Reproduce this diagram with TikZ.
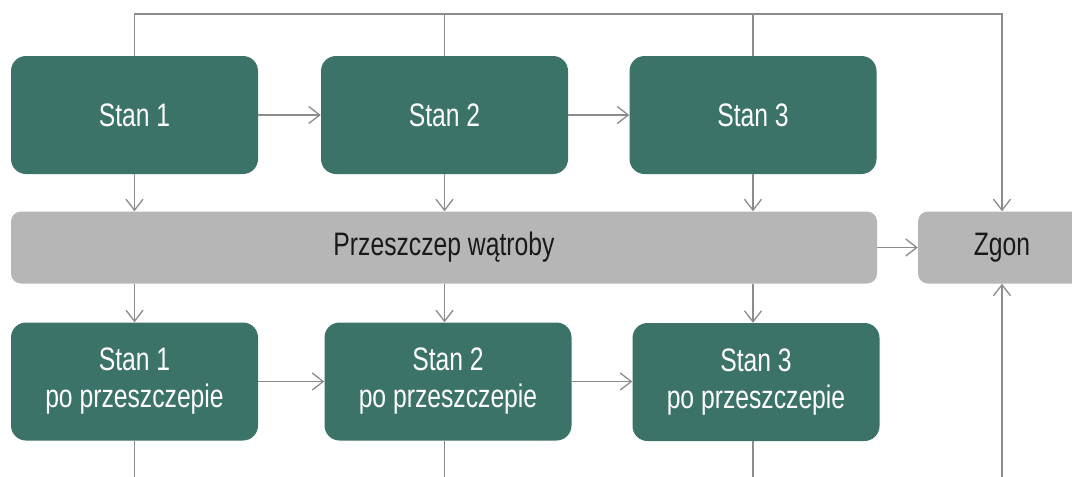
\documentclass[tikz,border=0pt]{standalone}
\usepackage{fontspec}
\setmainfont{Liberation Sans}[FakeStretch=0.76]
\usetikzlibrary{arrows.meta}
\definecolor{stategreen}{RGB}{59,115,104}
\definecolor{bargray}{RGB}{182,182,182}
\definecolor{linegray}{RGB}{140,140,140}
\definecolor{darktext}{RGB}{25,25,25}
\tikzset{
  greenbox/.style={rectangle, rounded corners=15pt, fill=stategreen, text=white,
    minimum width=247pt, minimum height=118pt, inner sep=0pt, align=center,
    font=\fontsize{32.5}{37}\selectfont},
  graybox/.style={rectangle, rounded corners=10pt, fill=bargray, text=darktext,
    minimum height=72pt, inner sep=0pt, align=center,
    font=\fontsize{32.5}{37}\selectfont},
  conn/.style={draw=linegray, line width=1.3pt},
  arr/.style={conn, -{Straight Barb[length=11pt,width=17pt,line width=1.3pt]}},
}
\begin{document}
\begin{tikzpicture}[x=1pt,y=-1pt]
\useasboundingbox (0,0) rectangle (1072,477);
\clip (0,0) rectangle (1072,477);
\fill[white] (0,0) rectangle (1072,477);

\node[greenbox] (s1) at (134.5,115) {Stan 1};
\node[greenbox] (s2) at (444.5,115) {Stan 2};
\node[greenbox] (s3) at (753,115) {Stan 3};
\node[graybox, minimum width=866pt] (bar) at (444,247.5) {Przeszczep wątroby};
\node[graybox, minimum width=168pt] (zgon) at (1002,247.5) {Zgon};
\node[greenbox] (p1) at (134.5,381.5) {Stan 1\\po przeszczepie};
\node[greenbox] (p2) at (448,381.5) {Stan 2\\po przeszczepie};
\node[greenbox] (p3) at (756,382) {Stan 3\\po przeszczepie};

\coordinate (topline) at (0,14);
\coordinate (bottomedge) at (0,485);

% top line to Zgon
\draw[arr] (s1.north) -- (s1.north |- topline) -- (zgon.north |- topline) -- (zgon.north);
\draw[conn] (s2.north) -- (s2.north |- topline);
\draw[conn] (s3.north) -- (s3.north |- topline);

% horizontal arrows
\draw[arr] (s1.east) -- (s2.west);
\draw[arr] (s2.east) -- (s3.west);
\draw[arr] (p1.east) -- (p1.east -| p2.west);
\draw[arr] (p2.east) -- (p2.east -| p3.west);
\draw[arr] (bar.east) -- (zgon.west);

% vertical arrows
\foreach \s/\p in {s1/p1, s2/p2, s3/p3} {
  \draw[arr] (\s.south) -- (\s.south |- bar.north);
  \draw[arr] (\s |- bar.south) -- (\s |- \p.north);
  \draw[conn] (\s |- \p.south) -- (\s |- bottomedge);
}
\draw[arr] (zgon.south |- bottomedge) -- (zgon.south);
\end{tikzpicture}
\end{document}
